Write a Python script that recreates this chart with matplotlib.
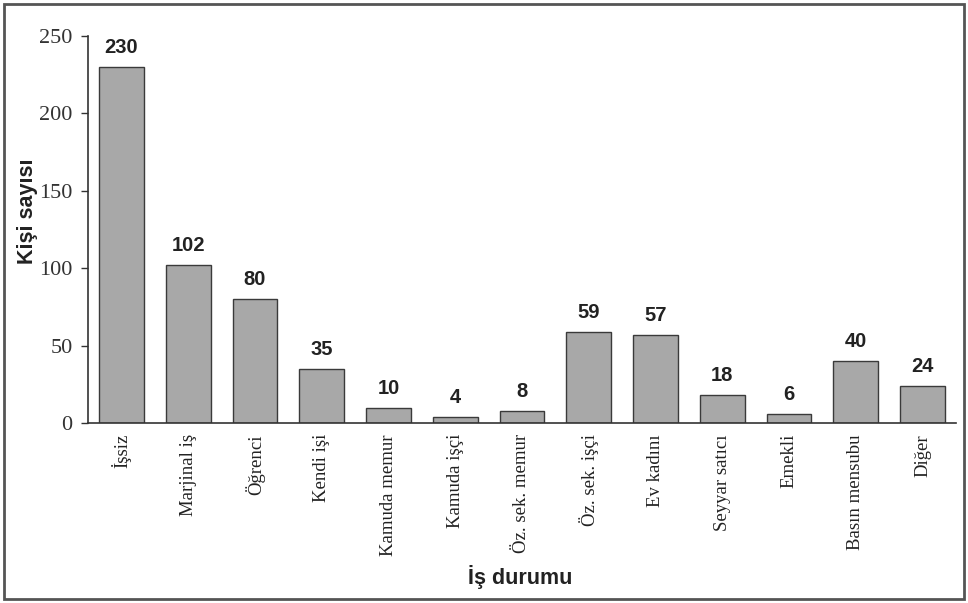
import matplotlib
matplotlib.use("Agg")
import matplotlib.pyplot as plt
from matplotlib.patches import Rectangle

categories = ["İşsiz", "Marjinal iş", "Öğrenci", "Kendi işi", "Kamuda memur",
              "Kamuda işçi", "Öz. sek. memur", "Öz. sek. işçi", "Ev kadını",
              "Seyyar satıcı", "Emekli", "Basın mensubu", "Diğer"]
values = [230, 102, 80, 35, 10, 4, 8, 59, 57, 18, 6, 40, 24]
yticks = [0, 50, 100, 150, 200, 250]

W, H = 968, 603
fig = plt.figure(figsize=(W / 100, H / 100), dpi=100)
ax = fig.add_axes([88 / W, 1 - 423 / H, (956 - 88) / W, (423 - 36) / H])

x = list(range(len(categories)))
ax.bar(x, values, width=0.67, color="#a8a8a8", edgecolor="#3a3a3a", linewidth=1.0)

for xi, v in zip(x, values):
    ax.annotate(str(v), (xi, v), xytext=(0, 7), textcoords="offset points",
                ha="center", va="bottom", fontsize=14.5,
                fontweight="bold", family="Liberation Sans", color="#222222")

ax.set_xlim(-0.5, len(categories) - 0.5)
ax.set_ylim(0, 250)
ax.set_yticks(yticks)
ax.set_yticklabels([str(t) for t in yticks], family="Liberation Serif", fontsize=16,
                   color="#333333")
ax.set_xticks(x)
ax.set_xticklabels(categories, rotation=90, family="Liberation Serif", fontsize=13.5,
                   color="#222222", va="top")
ax.tick_params(axis="x", length=0, pad=8)
ax.tick_params(axis="y", length=5, width=1, color="#333333", pad=6)
for s in ["top", "right"]:
    ax.spines[s].set_visible(False)
for s in ["left", "bottom"]:
    ax.spines[s].set_color("#333333")
    ax.spines[s].set_linewidth(1.2)

fig.text(28 / W, 1 - 211 / H, "Kişi sayısı", rotation=90, ha="center", va="center",
         fontsize=15.5, fontweight="bold", family="Liberation Sans", color="#222222")
fig.text(520 / W, 1 - 577 / H, "İş durumu", ha="center", va="center",
         fontsize=15.5, fontweight="bold", family="Liberation Sans", color="#222222")

fig.patches.append(Rectangle((4 / W, 4 / H), (W - 8) / W, (H - 8) / H,
                             transform=fig.transFigure, fill=False,
                             edgecolor="#555555", linewidth=2))

fig.savefig("out.png", dpi=100)
